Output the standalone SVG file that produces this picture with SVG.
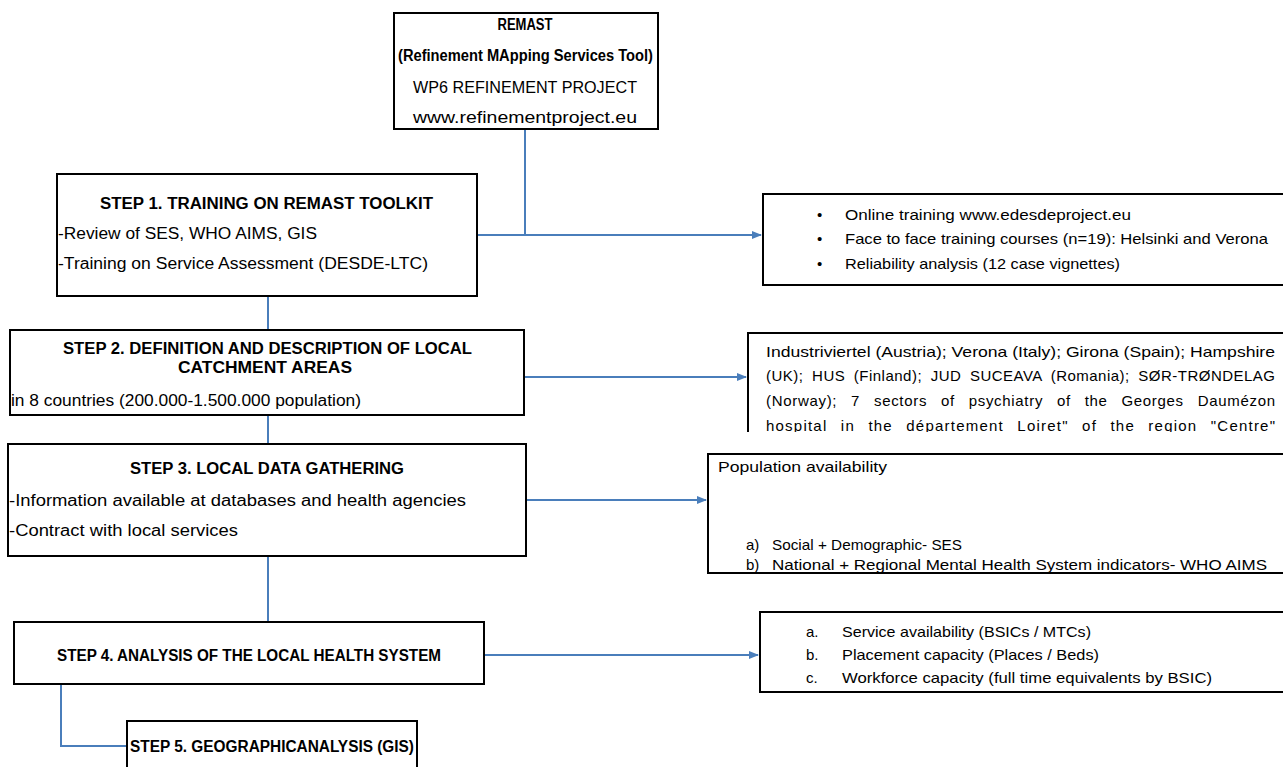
<svg xmlns="http://www.w3.org/2000/svg" width="1283" height="767" viewBox="0 0 1283 767">
<style>
.box{fill:#fff;stroke:#000;stroke-width:2}
.t{font-family:"Liberation Sans","Noto Sans",Arial,sans-serif;font-size:16px;fill:#000}
.b{font-weight:bold}
.s{font-size:15px}
.c{text-anchor:middle}
.con{fill:none;stroke:#4a7ebb;stroke-width:2}
</style>
<defs>
<marker id="ah" markerWidth="10" markerHeight="8" refX="9" refY="4" orient="auto" markerUnits="userSpaceOnUse">
<path d="M0,0 L10,4 L0,8 z" fill="#4a7ebb"/>
</marker>
<clipPath id="clip2"><rect x="740" y="320" width="560" height="112"/></clipPath>
</defs>

<g id="connectors">
<path class="con" d="M525,129 V235 H477"/>
<path class="con" d="M525,235 H761" marker-end="url(#ah)"/>
<path class="con" d="M268,296 V330"/>
<path class="con" d="M524,377 H746" marker-end="url(#ah)"/>
<path class="con" d="M268,415 V444"/>
<path class="con" d="M526,500 H706" marker-end="url(#ah)"/>
<path class="con" d="M268,556 V621"/>
<path class="con" d="M484,655 H758" marker-end="url(#ah)"/>
<path class="con" d="M61,684 V746 H127"/>
</g>

<g id="remast">
<rect class="box" x="394" y="13" width="264" height="116"/>
<text class="t b c" x="525" y="30" font-size="16" textLength="55" lengthAdjust="spacingAndGlyphs">REMAST</text>
<text class="t b c" x="525.5" y="61" font-size="14" textLength="255" lengthAdjust="spacingAndGlyphs">(Refinement MApping Services Tool)</text>
<text class="t c" x="525" y="93" font-size="17" textLength="224" lengthAdjust="spacingAndGlyphs">WP6 REFINEMENT PROJECT</text>
<text class="t c" x="525" y="123" font-size="17" textLength="224" lengthAdjust="spacingAndGlyphs">www.refinementproject.eu</text>
</g>

<g id="step1">
<rect class="box" x="57" y="174" width="420" height="122"/>
<text class="t b" x="100" y="209" textLength="333" lengthAdjust="spacingAndGlyphs">STEP 1. TRAINING ON REMAST TOOLKIT</text>
<text class="t" x="58" y="239" font-size="17" textLength="259" lengthAdjust="spacingAndGlyphs">-Review of SES, WHO AIMS, GIS</text>
<text class="t" x="58" y="269" font-size="17" textLength="370" lengthAdjust="spacingAndGlyphs">-Training on Service Assessment (DESDE-LTC)</text>
</g>

<g id="training">
<rect class="box" x="763" y="194" width="530" height="91"/>
<text class="t s" x="817" y="220">•</text>
<text class="t s" x="817" y="244">•</text>
<text class="t s" x="817" y="269">•</text>
<text class="t s" x="845" y="220" textLength="286" lengthAdjust="spacingAndGlyphs">Online training www.edesdeproject.eu</text>
<text class="t s" x="845" y="244" textLength="423" lengthAdjust="spacingAndGlyphs">Face to face training courses (n=19): Helsinki and Verona</text>
<text class="t s" x="845" y="269" textLength="275" lengthAdjust="spacingAndGlyphs">Reliability analysis (12 case vignettes)</text>
</g>

<g id="step2">
<rect class="box" x="10" y="330" width="514" height="85"/>
<text class="t b" x="63" y="354" textLength="409" lengthAdjust="spacingAndGlyphs">STEP 2. DEFINITION AND DESCRIPTION OF LOCAL</text>
<text class="t b" x="178" y="373" textLength="174" lengthAdjust="spacingAndGlyphs">CATCHMENT AREAS</text>
<text class="t" x="11" y="406" font-size="17" textLength="350" lengthAdjust="spacingAndGlyphs">in 8 countries (200.000-1.500.000 population)</text>
</g>

<g id="areas">
<g clip-path="url(#clip2)">
<rect class="box" x="748" y="333" width="545" height="120"/>
<g class="t s" style="white-space:pre">
<text x="766" y="357" word-spacing="0" textLength="509" lengthAdjust="spacingAndGlyphs">Industriviertel (Austria);  Verona (Italy);  Girona (Spain);  Hampshire</text>
<text x="766" y="381" word-spacing="4" textLength="509" lengthAdjust="spacing">(UK);  HUS (Finland); JUD SUCEAVA (Romania);  SØR-TRØNDELAG</text>
<text x="766" y="406" word-spacing="9" textLength="509" lengthAdjust="spacing">(Norway);  7 sectors of psychiatry of the Georges Daumézon</text>
<text x="766" y="431" word-spacing="8" textLength="509" lengthAdjust="spacing">hospital in the département  Loiret" of the region "Centre"</text>
</g>
</g>
</g>

<g id="step3">
<rect class="box" x="8" y="444" width="518" height="112"/>
<text class="t b" x="130" y="474" textLength="274" lengthAdjust="spacingAndGlyphs">STEP 3. LOCAL DATA GATHERING</text>
<text class="t" x="9" y="506" font-size="17" textLength="457" lengthAdjust="spacingAndGlyphs">-Information available at databases and health agencies</text>
<text class="t" x="9" y="536" font-size="17" textLength="229" lengthAdjust="spacingAndGlyphs">-Contract with local services</text>
</g>

<g id="population">
<rect class="box" x="708" y="454" width="585" height="119"/>
<text class="t s" x="718" y="472" textLength="169" lengthAdjust="spacingAndGlyphs">Population availability</text>
<text class="t s" x="746" y="550">a)</text>
<text class="t s" x="772" y="550" textLength="190" lengthAdjust="spacingAndGlyphs">Social + Demographic- SES</text>
<text class="t s" x="746" y="570">b)</text>
<text class="t s" x="772" y="570" textLength="495" lengthAdjust="spacingAndGlyphs">National + Regional Mental Health System indicators- WHO AIMS</text>
</g>

<g id="step4">
<rect class="box" x="14" y="622" width="470" height="62"/>
<text class="t b" x="57" y="661" textLength="384" lengthAdjust="spacingAndGlyphs">STEP 4. ANALYSIS OF THE LOCAL HEALTH SYSTEM</text>
</g>

<g id="capacity">
<rect class="box" x="760" y="612" width="533" height="80"/>
<text class="t s" x="806" y="637">a.</text>
<text class="t s" x="842" y="637" textLength="249" lengthAdjust="spacingAndGlyphs">Service availability (BSICs / MTCs)</text>
<text class="t s" x="806" y="660">b.</text>
<text class="t s" x="842" y="660" textLength="257" lengthAdjust="spacingAndGlyphs">Placement capacity (Places / Beds)</text>
<text class="t s" x="806" y="683">c.</text>
<text class="t s" x="842" y="683" textLength="370" lengthAdjust="spacingAndGlyphs">Workforce capacity (full time equivalents by BSIC)</text>
</g>

<g id="step5">
<rect class="box" x="127" y="721" width="290" height="70"/>
<text class="t b" x="130" y="752" textLength="284" lengthAdjust="spacingAndGlyphs">STEP 5. GEOGRAPHICANALYSIS (GIS)</text>
</g>
</svg>
